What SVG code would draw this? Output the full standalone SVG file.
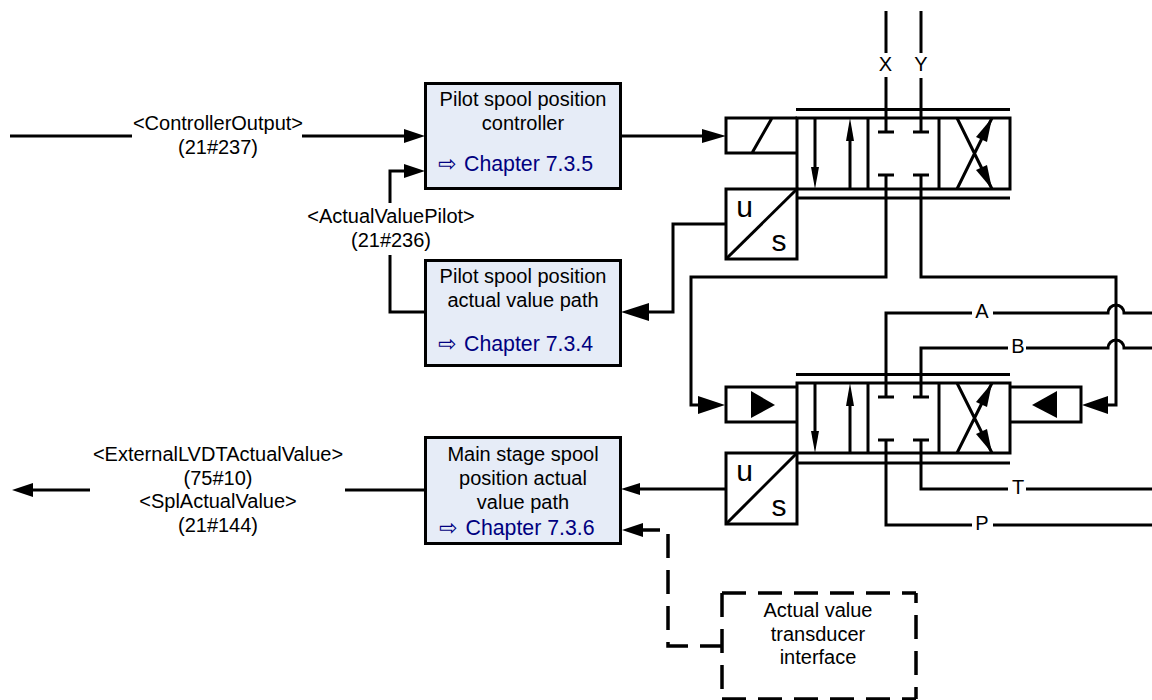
<svg xmlns="http://www.w3.org/2000/svg" width="1152" height="700" viewBox="0 0 1152 700">
<style>
.l{fill:none;stroke:#000;stroke-width:3}
.v{fill:none;stroke:#000;stroke-width:3}
.box{fill:#e6ecf7;stroke:#000;stroke-width:3}
.t{font-family:"Liberation Sans",Arial,sans-serif;font-size:20px;fill:#000;text-anchor:middle}
.c{font-family:"Liberation Sans",Arial,sans-serif;font-size:21.300px;fill:#000080}
.g{font-family:"DejaVu Sans",sans-serif;font-size:22px;fill:#000080}
.b{font-family:"Liberation Sans",Arial,sans-serif;font-size:30px;fill:#000;text-anchor:middle}
.d{fill:none;stroke:#000;stroke-width:3.500;stroke-dasharray:24 12}
.s{fill:none;stroke:#000;stroke-width:3.500}
</style>
<rect width="1152" height="700" fill="#fff"/>
<g id="connectors">
<path class="l" d="M10 136H132M302 136H405"/>
<polygon points="425,136 404,129 404,143"/>
<path class="l" d="M390 203V171H405M390 255V312H425"/>
<polygon points="425,171 404,164 404,178"/>
<path class="l" d="M621 136H705"/>
<polygon points="726,136 702,129 702,143"/>
<path class="l" d="M726 224H673V312H645"/>
<polygon points="621,312 649,303 649,321"/>
<path class="l" d="M726 489H638"/>
<polygon points="621,489 640,483 640,495"/>
<path class="l" d="M425 490H345M90 490H32"/>
<polygon points="12,490 33,483 33,497"/>
<path class="l" d="M886 11V53M886 77V132M921 11V53M921 78V132M886 175V277H691V405H705M921 175V277H1116V405H1100"/>
<polygon points="725,405 698,396 698,414"/>
<polygon points="1082,405 1108,396 1108,414"/>
<path class="l" d="M886 397V313H972M993 313H1108A8 8 0 0 1 1124 313H1152M921 397V348H1008M1026 348H1108A8 8 0 0 1 1124 348H1152"/>
<path class="l" d="M886 440V525H972M993 525H1152M921 440V489H1008M1026 489H1152"/>
<path class="s" d="M660 530H640"/>
<polygon points="622,530 643,523 643,537"/>
<path class="d" d="M668 534V646H721"/>
</g>
<g id="valve-pilot">
<path class="l" d="M796 109.500H1010M797 198H1010"/>
<rect class="l" x="797" y="118" width="213" height="71"/>
<path class="l" d="M868 118V189M939 118V189"/>
<path class="v" d="M815 118V170M850 189V138M957 118L992 189M957 189L992 118M878 132H894M913 132H929M878 175H894M913 175H929"/>
<polygon points="815,189 811,167 819,167"/>
<polygon points="850,118 846,141 854,141"/>
<polygon points="992,118 976,137 987,142"/>
<polygon points="992,189 976,170 987,165"/>
</g>
<g id="solenoid">
<path class="l" d="M797 118H726V153H797M772 118L752 153"/>
</g>
<g id="us-pilot">
<rect class="l" x="726" y="189" width="71" height="70"/>
<path class="l" d="M726 259L797 189"/>
<text class="b" x="744.500" y="217">u</text>
<text class="b" x="779" y="251">s</text>
</g>
<g id="valve-main">
<path class="l" d="M796 374.500H1010M797 463H1010"/>
<rect class="l" x="797" y="383" width="213" height="70"/>
<path class="l" d="M868 383V453M939 383V453"/>
<path class="v" d="M815 383V435M850 453V403M957 383L992 453M957 453L992 383M878 397H894M913 397H929M878 440H894M913 440H929"/>
<polygon points="815,453 811,431 819,431"/>
<polygon points="850,383 846,406 854,406"/>
<polygon points="992,383 976,402 987,407"/>
<polygon points="992,453 976,434 987,429"/>
</g>
<g id="pilot-left">
<path class="l" d="M797 387H726V422H797"/>
<polygon points="751,391 775,405 751,418"/>
</g>
<g id="pilot-right">
<path class="l" d="M1010 387H1081V422H1010"/>
<polygon points="1057,391 1032,405 1057,418"/>
</g>
<g id="us-main">
<rect class="l" x="726" y="453" width="71" height="71"/>
<path class="l" d="M726 524L797 453"/>
<text class="b" x="744.500" y="481">u</text>
<text class="b" x="779" y="516">s</text>
</g>
<g id="box-controller">
<rect class="box" x="425.500" y="83.500" width="195" height="105"/>
<text class="t" x="523" y="106">Pilot spool position</text>
<text class="t" x="523" y="130">controller</text>
<text class="g" x="438" y="171">⇨</text>
<text class="c" x="464" y="171">Chapter 7.3.5</text>
</g>
<g id="box-actual">
<rect class="box" x="425.500" y="260.500" width="195" height="105"/>
<text class="t" x="523" y="283">Pilot spool position</text>
<text class="t" x="523" y="307">actual value path</text>
<text class="g" x="438" y="351">⇨</text>
<text class="c" x="464" y="351">Chapter 7.3.4</text>
</g>
<g id="box-main">
<rect class="box" x="425.500" y="437.500" width="195" height="106"/>
<text class="t" x="523" y="461">Main stage spool</text>
<text class="t" x="523" y="485">position actual</text>
<text class="t" x="523" y="509">value path</text>
<text class="g" x="439" y="535">⇨</text>
<text class="c" x="465.500" y="535">Chapter 7.3.6</text>
</g>
<g id="box-transducer">
<path class="d" d="M722 593H916M722 593V699M722 699H916"/>
<path class="d" stroke-dashoffset="14" d="M916 593V699"/>
<text class="t" x="818" y="617">Actual value</text>
<text class="t" x="818" y="641">transducer</text>
<text class="t" x="818" y="664">interface</text>
</g>
<g id="labels">
<text class="t" x="218" y="130">&lt;ControllerOutput&gt;</text>
<text class="t" x="218" y="154">(21#237)</text>
<text class="t" x="391" y="223">&lt;ActualValuePilot&gt;</text>
<text class="t" x="391" y="247">(21#236)</text>
<text class="t" x="218" y="461">&lt;ExternalLVDTActualValue&gt;</text>
<text class="t" x="218" y="485">(75#10)</text>
<text class="t" x="218" y="508">&lt;SplActualValue&gt;</text>
<text class="t" x="218" y="532">(21#144)</text>
<text class="t" x="885.500" y="71">X</text>
<text class="t" x="921" y="71">Y</text>
<text class="t" x="982" y="318">A</text>
<text class="t" x="1018" y="353">B</text>
<text class="t" x="1018" y="494">T</text>
<text class="t" x="982" y="530">P</text>
</g>
</svg>
